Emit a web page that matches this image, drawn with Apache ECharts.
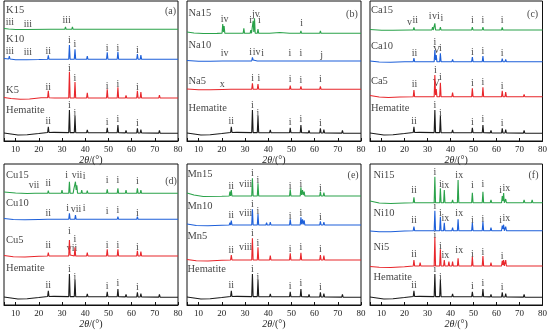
<!DOCTYPE html>
<html><head><meta charset="utf-8">
<script src="https://cdn.jsdelivr.net/npm/echarts@6/dist/echarts.min.js"></script>
<style>html,body{margin:0;padding:0;background:#fff}#c{width:550px;height:333px}</style>
</head><body><div id="c"></div>
<script>
// ---- data (2θ in degrees, stacked intensity in arbitrary units) ----
const hematite = [[5,8],[8,7],[11,6],[15,6.2],[20,7.5],[23.8,8.5],[24.1,14.3],[24.4,8.5],[26.5,8.6],[26.8,10.5],[27.1,8.6],[32.9,8.4],[33.2,31],[33.5,8.4],[35.3,8.4],[35.6,25],[35.9,8.4],[39,8.3],[39.3,10],[39.6,8.3],[40.6,8.3],[40.9,11],[41.2,8.3],[49.2,8.2],[49.5,13.3],[49.8,8.2],[53.8,8.2],[54.1,16],[54.4,8.2],[57.3,8.1],[57.6,10.5],[57.9,8.1],[62.2,8],[62.5,12.7],[62.8,8],[63.7,8],[64,11.5],[64.3,8],[71.7,7.9],[72,10.5],[72.3,7.9],[75.2,7.8],[75.5,9],[75.8,7.8],[80,7.7]];

const k5 = [[5,43.5],[8,42.5],[12,41.7],[16,42],[21,43.2],[23.8,43.2],[24.1,50.3],[24.4,43.2],[26.8,43],[28.8,43],[29.1,44],[29.4,43],[32.9,43],[33.2,69.3],[33.5,43],[35.3,43],[35.6,59],[35.9,43],[40.6,43],[40.9,48.3],[41.2,43],[49.2,43],[49.5,51.7],[49.8,43],[53.8,43],[54.1,53.7],[54.4,43],[57.3,43],[57.6,45.5],[57.9,43],[62.2,43],[62.5,50.3],[62.8,43],[63.7,43],[64,49],[64.3,43],[71.7,43],[72,46],[72.3,43],[75.2,43],[75.5,44.5],[75.8,43],[80,43]];
const k10 = [[5,82.5],[7,82],[7.3,85],[7.6,82],[10,81.2],[14.7,81.3],[15,83],[15.3,81.3],[20,81.5],[23.8,81.7],[24.1,85.7],[24.4,81.7],[31.2,81.7],[31.5,83],[31.8,81.7],[32.9,81.7],[33.2,96],[33.5,81.7],[35.3,81.7],[35.6,91.7],[35.9,81.7],[40.6,81.7],[40.9,85],[41.2,81.7],[49.2,81.7],[49.5,88.7],[49.8,81.7],[53.8,81.7],[54.1,89.3],[54.4,81.7],[62.2,81.7],[62.5,87],[62.8,81.7],[63.7,81.7],[64,86],[64.3,81.7],[71.7,81.7],[72,83],[72.3,81.7],[80,81.7]];
const k15 = [[5,112.5],[7,112],[7.3,114],[7.6,112],[10,111.5],[14.7,111.5],[15,113],[15.3,111.5],[25,111.7],[29.7,111.7],[30,113.5],[30.3,111.7],[31.2,111.7],[31.5,114],[31.8,111.7],[32.9,111.7],[33.2,113.5],[33.5,111.7],[34.2,111.7],[34.5,114],[34.8,111.7],[35.7,111.7],[36,113],[36.3,111.7],[62.2,111.7],[62.5,113],[62.8,111.7],[80,111.7]];

const na5 = [[5,52],[10,51.2],[15,51.2],[20.3,51.5],[20.6,53.5],[20.9,51.5],[23.8,51.7],[24.1,52.8],[24.4,51.7],[32.9,51.7],[33.2,57.7],[33.5,51.7],[35.3,51.7],[35.6,57],[35.9,51.7],[40.6,51.7],[40.9,53.5],[41.2,51.7],[49.2,51.7],[49.5,55.3],[49.8,51.7],[53.8,51.7],[54.1,54.7],[54.4,51.7],[62.2,51.7],[62.5,54.7],[62.8,51.7],[63.7,51.7],[64,53.5],[64.3,51.7],[80,51.7]];
const na10 = [[5,80.5],[10,79.7],[15,79.8],[20.3,80],[20.6,82],[20.9,80],[32.9,80],[33.2,83.7],[33.5,81],[33.8,82.5],[34.1,80],[35.3,80],[35.6,82],[35.9,80],[40.6,80],[40.9,81],[41.2,80],[49.2,80],[49.5,82],[49.8,80],[53.8,80],[54.1,82],[54.4,80],[62.2,80],[62.5,82],[62.8,80],[80,80]];
const na15 = [[5,109],[8,108],[12,107.5],[18,107.6],[20.1,107.7],[20.4,117],[20.7,109],[21,115],[21.3,107.7],[24,107.7],[24.3,109],[24.6,107.7],[29.2,107.7],[29.5,112.7],[29.8,107.7],[32.2,107.7],[32.5,111],[32.8,107.7],[33.2,107.7],[33.5,120.3],[33.8,109],[34.1,122.7],[34.4,107.7],[35.3,107.7],[35.6,112],[35.9,107.7],[40.6,107.7],[40.9,109],[41.2,107.7],[45,108.5],[49.2,107.7],[49.5,109.5],[49.8,107.7],[53.8,107.7],[54.1,110],[54.4,107.7],[59.7,107.7],[60,109.5],[60.3,107.7],[62.2,107.7],[62.5,110],[62.8,107.7],[63.7,107.7],[64,109.5],[64.3,107.7],[80,107.7]];

const ca5 = [[5,45.5],[9,44],[13,43.5],[18,44],[23.8,44.3],[24.1,51],[24.4,44.3],[32.9,44.3],[33.2,66],[33.5,46],[33.8,52],[34.1,44.3],[35.3,44.3],[35.6,58.3],[35.9,44.3],[40.6,44.3],[40.9,48.5],[41.2,44.3],[49.2,44.3],[49.5,52.7],[49.8,44.3],[53.8,44.3],[54.1,53.7],[54.4,44.3],[57.3,44.3],[57.6,46],[57.9,44.3],[62.2,44.3],[62.5,50.3],[62.8,44.3],[63.7,44.3],[64,49],[64.3,44.3],[71.7,44.3],[72,46.5],[72.3,44.3],[80,44.3]];
const ca10 = [[5,80],[9,79],[14,78.8],[20,79.2],[23.8,79.3],[24.1,83],[24.4,79.3],[32.9,79.3],[33.2,91],[33.5,81],[33.8,86],[34.1,79.3],[35.3,79.3],[35.6,87.7],[35.9,79.3],[40.6,79.3],[40.9,81.5],[41.2,79.3],[46.7,79.3],[47,80.5],[47.3,79.3],[49.2,79.3],[49.5,84],[49.8,79.3],[53.8,79.3],[54.1,85],[54.4,79.3],[57.3,79.3],[57.6,80.5],[57.9,79.3],[62.2,79.3],[62.5,82.5],[62.8,79.3],[63.7,79.3],[64,81.5],[64.3,79.3],[71.7,79.3],[72,80.5],[72.3,79.3],[80,79.3]];
const ca15 = [[5,111.5],[10,110.7],[15,110.7],[22.5,111],[22.8,112.5],[23.1,111],[23.8,111],[24.1,113.5],[24.4,111],[29.2,111],[29.5,112.7],[29.8,111],[31.9,111],[32.2,114],[32.5,111],[32.9,111],[33.2,117.7],[33.5,111],[35.3,111],[35.6,114],[35.9,111],[40.6,111],[40.9,112.7],[41.2,111],[46.7,111],[47,112],[47.3,111],[49.2,111],[49.5,114],[49.8,111],[53.8,111],[54.1,114],[54.4,111],[62.2,111],[62.5,113.5],[62.8,111],[71.7,111],[72,112],[72.3,111],[80,111]];

const cu5 = [[5,49.5],[9,48.3],[14,48],[20,48.7],[23.8,49],[24.1,52.3],[24.4,49],[32.9,49],[33.2,65],[33.5,50],[33.8,52],[34.1,49],[35.3,49],[35.6,57.7],[35.9,49],[40.6,49],[40.9,52.3],[41.2,49],[49.2,49],[49.5,55.7],[49.8,49],[53.8,49],[54.1,55.7],[54.4,49],[57.3,49],[57.6,50.7],[57.9,49],[62.2,49],[62.5,54.3],[62.8,49],[63.7,49],[64,53.3],[64.3,49],[71.7,49],[72,50.3],[72.3,49],[80,49]];
const cu10 = [[5,86.5],[9,85.5],[14,85.2],[20,85.5],[23.8,85.7],[24.1,87.7],[24.4,85.7],[32.9,85.7],[33.2,91.7],[33.5,85.7],[35.5,85.7],[35.8,90],[36.1,85.7],[38.2,85.7],[38.5,86.7],[38.8,85.7],[49.2,85.7],[49.5,87.7],[49.8,85.7],[53.8,85.7],[54.1,88.3],[54.4,85.7],[62.2,85.7],[62.5,88.3],[62.8,85.7],[63.7,85.7],[64,87.7],[64.3,85.7],[80,85.7]];
const cu15 = [[5,113],[10,112],[15,111.5],[18.4,111.7],[18.7,113],[19,111.7],[23.8,111.7],[24.1,114.3],[24.4,111.7],[26.2,111.7],[26.5,113],[26.8,111.7],[29.7,111.7],[30,115],[30.3,111.7],[32.9,111.7],[33.2,123.3],[33.5,111.7],[34.8,111.7],[35.1,116],[35.4,114],[35.8,123.3],[36.1,115],[36.4,119.7],[36.7,111.7],[38.2,111.7],[38.5,115],[38.8,111.7],[40.6,111.7],[40.9,114.3],[41.2,111.7],[43.7,111.7],[44,113.7],[44.3,111.7],[49.2,111.7],[49.5,115.7],[49.8,111.7],[53.8,111.7],[54.1,116.7],[54.4,111.7],[57.3,111.7],[57.6,115],[57.9,111.7],[62.2,111.7],[62.5,116.7],[62.8,111.7],[63.7,111.7],[64,115],[64.3,111.7],[71.7,111.7],[72,113],[72.3,111.7],[80,111.7]];

const mn5 = [[5,45.5],[9,44.3],[14,44],[20,44.7],[23.8,45],[24.1,50],[24.4,45],[26.5,45],[26.8,46.7],[27.1,45],[32.9,45],[33.2,66.7],[33.5,45],[35.3,45],[35.6,57.7],[35.9,45],[40.6,45],[40.9,49.3],[41.2,45],[49.2,45],[49.5,51.7],[49.8,45],[53.8,45],[54.1,52.3],[54.4,45],[57.3,45],[57.6,46.5],[57.9,45],[62.2,45],[62.5,50],[62.8,45],[63.7,45],[64,49.3],[64.3,45],[71.7,45],[72,46.7],[72.3,45],[80,45]];
const mn10 = [[5,81],[9,79.5],[14,79.2],[20,79.8],[23.2,80],[23.5,82.3],[23.8,80],[24.1,84.3],[24.4,80],[26.5,80],[26.8,81.7],[27.1,80],[32.9,80],[33.2,95.7],[33.5,80],[35.3,80],[35.6,91],[35.9,80],[39,80],[39.3,82.3],[39.6,80],[40.6,80],[40.9,83],[41.2,80],[44.7,80],[45,81.3],[45.3,80],[49.2,80],[49.5,85.7],[49.8,80],[53.8,80],[54.1,87.7],[54.4,80.7],[54.8,85.7],[55.1,80.7],[55.5,84.7],[55.8,80],[62.2,80],[62.5,83.7],[62.8,80],[63.7,80],[64,83],[64.3,80],[71.7,80],[72,81.7],[72.3,80],[80,80]];
const mn15 = [[5,112],[8,110],[12,108.5],[20,108.8],[23.2,109],[23.5,113.3],[23.8,109],[24.1,115],[24.4,109],[26.5,109],[26.8,111],[27.1,109],[32.9,109],[33.2,126.7],[33.5,109],[35.3,109],[35.6,121.7],[35.9,109],[39,109],[39.3,111],[39.6,109],[40.6,109],[40.9,111],[41.2,109],[49.2,109],[49.5,115.7],[49.8,109],[53.8,109],[54.1,117.7],[54.4,110],[54.8,115],[55.1,110],[55.5,113.3],[55.8,109],[62.2,109],[62.5,113.3],[62.8,109],[63.7,109],[64,112.3],[64.3,109],[71.7,109],[72,110.3],[72.3,109],[80,109]];

const ni5 = [[5,38.5],[9,37.7],[14,37.5],[20,38.3],[23.8,39],[24.1,45],[24.4,39],[26.5,39],[26.8,42.3],[27.1,39],[32.9,39],[33.2,67.7],[33.5,39],[35.3,39],[35.6,55.7],[35.9,39],[37,39],[37.3,45],[37.6,39],[39,39],[39.3,43.3],[39.6,39],[40.6,39],[40.9,43.3],[41.2,39],[43,39],[43.3,46.7],[43.6,39],[49.2,39],[49.5,48.3],[49.8,39],[53.8,39],[54.1,49],[54.4,39],[57.3,39],[57.6,42.3],[57.9,39],[62.2,39],[62.5,44.3],[62.8,40],[63.1,45],[63.4,39],[63.7,39],[64,45],[64.3,39],[71.7,39],[72,41],[72.3,39],[75.2,39],[75.5,41],[75.8,39],[80,39]];
const ni10 = [[5,74],[9,73.3],[14,73.3],[20,74],[23.8,74.3],[24.1,78.3],[24.4,74.3],[26.5,74.3],[26.8,76],[27.1,74.3],[32.9,74.3],[33.2,94.3],[33.5,74.3],[35.3,74.3],[35.6,88.3],[35.9,74.3],[37,74.3],[37.3,82.3],[37.6,74.3],[40.6,74.3],[40.9,77.3],[41.2,74.3],[43,74.3],[43.3,85.7],[43.6,74.3],[49.2,74.3],[49.5,82.3],[49.8,74.3],[53.8,74.3],[54.1,83.3],[54.4,74.3],[57.3,74.3],[57.6,77.3],[57.9,74.3],[62.2,74.3],[62.5,79.3],[62.8,76],[63.1,80.3],[63.4,74.3],[63.7,74.3],[64,78.3],[64.3,74.3],[71.7,74.3],[72,76.3],[72.3,74.3],[75.2,74.3],[75.5,76.3],[75.8,74.3],[80,74.3]];
const ni15 = [[5,104],[9,102],[14,101.5],[20,102],[23.8,102.3],[24.1,107.7],[24.4,102.3],[26.5,102.3],[26.8,104.3],[27.1,102.3],[30.2,102.3],[30.5,103.7],[30.8,102.3],[32.9,102.3],[33.2,128.3],[33.5,102.3],[35.3,102.3],[35.6,116.7],[35.9,102.3],[37,102.3],[37.3,115],[37.6,102.3],[40.6,102.3],[40.9,105],[41.2,102.3],[43,102.3],[43.3,125],[43.6,102.3],[49.2,102.3],[49.5,112.3],[49.8,102.3],[53.8,102.3],[54.1,113.3],[54.4,102.3],[57.3,102.3],[57.6,105],[57.9,102.3],[62.2,102.3],[62.5,109],[62.8,104],[63.1,112],[63.4,102.3],[63.7,102.3],[64,106],[64.3,102.3],[71.7,102.3],[72,105],[72.3,102.3],[75.2,102.3],[75.5,105],[75.8,102.3],[80,102.3]];

// sample names [2θ, y, text]
const namesA = [[5.9,130.3,'K15'],[5.9,101.7,'K10'],[5.9,51,'K5'],[5.9,31,'Hematite']];
const namesB = [[5.6,127.7,'Na15'],[5.6,96,'Na10'],[5.6,60,'Na5'],[5.6,33,'Hematite']];
const namesC = [[5.4,131,'Ca15'],[5.4,94.3,'Ca10'],[5.4,60,'Ca5'],[5.4,32.7,'Hematite']];
const namesD = [[5.9,130,'Cu15'],[5.9,101.7,'Cu10'],[5.9,65,'Cu5'],[5.9,36.7,'Hematite']];
const namesE = [[5.2,131,'Mn15'],[5.2,98.3,'Mn10'],[5.2,68.3,'Mn5'],[5.2,35.7,'Hematite']];
const namesF = [[6.5,130,'Ni15'],[6.5,91.7,'Ni10'],[6.5,57.7,'Ni5'],[6.5,27.7,'Hematite']];
const panelTags = [[76.8,130,'(a)'],[76.1,127,'(b)'],[75.7,127,'(c)'],[77,123.3,'(d)'],[76.6,130,'(e)'],[76.1,130,'(f)']];

// peak labels [2θ, y, text]
const hemPeaks = [[24.1,19.3,'ii'],[33.2,36,'i'],[35.6,28,'i'],[49.5,18.3,'i'],[54.1,21.5,'i'],[62.5,18,'i']];
const peaksA = [[24.1,54,'ii'],[33.2,73,'i'],[35.6,62.5,'i'],[49.5,54.5,'i'],[54.1,57,'i'],[62.5,53.5,'i'],
  [7.5,89.3,'iii'],[15.3,88.3,'iii'],[24.1,90,'ii'],[33.2,101,'i'],[35.6,96.7,'i'],[49.5,92.7,'i'],[54.1,92.7,'i'],[62.5,90.3,'i'],
  [7.5,118.3,'iii'],[15.3,117,'iii'],[32,120.3,'iii']];
const peaksB = [[20.2,57,'x'],[33.3,62.7,'i'],[36,62.7,'i'],[49.5,61.7,'i'],[54.1,61,'i'],[62.5,61.7,'i'],
  [21.2,87.7,'iv'],[32.4,88.3,'i'],[35,88.3,'iv'],[37.6,87.7,'i'],[49.4,87.7,'i'],[54.1,87.7,'i'],[63,85.5,'j'],
  [21.2,121.7,'iv'],[32.4,120.3,'i'],[34.7,127,'jv'],[36.2,120.3,'i'],[54.4,117.7,'i']];
const peaksC = [[24.4,56.7,'ii'],[33.4,71,'i'],[33.9,57.7,'V'],[35.6,63.7,'i'],[49.5,58,'i'],[54.1,58.7,'i'],[62.5,55,'i'],
  [24.4,87.7,'ii'],[33.2,98.3,'i'],[34,91,'V'],[35.6,92.7,'i'],[49.5,88.7,'i'],[54.1,89.3,'i'],[62.5,87.7,'i'],
  [22.2,118.3,'v'],[24.7,121,'ii'],[31.2,125,'i'],[33.7,125,'vi'],[36.3,122.7,'i'],[49.5,121,'i'],[54.1,120.3,'i'],[62.5,120.3,'i']];
const peaksD = [[24.1,60,'ii'],[33.2,74,'i'],[34.3,56.7,'vii'],[35.6,65.7,'i'],[49.5,60,'i'],[54.1,60,'i'],[62.5,58,'i'],
  [24.1,91.7,'ii'],[32.4,96.7,'i'],[36,96,'vii'],[39.5,96.3,'i'],[49.5,94,'i'],[54.1,95,'i'],[62.5,92,'i'],
  [17.9,120,'vii'],[24.1,121.7,'ii'],[32,130,'i'],[36.5,130,'vii'],[39.5,128.3,'i'],[49.5,124.3,'i'],[54.1,124.3,'i'],[62.5,123.3,'i']];
const peaksE = [[24.1,55,'ii'],[30.3,57.7,'viii'],[33.2,71.7,'i'],[35.6,61.7,'i'],[49.5,56,'i'],[54.1,57.7,'i'],[62.5,55.7,'i'],
  [24.1,90,'ii'],[30.3,91.7,'viii'],[33.2,100.7,'i'],[35.6,93.3,'i'],[49.5,88.3,'i'],[54.1,91.7,'i'],[62.5,87.7,'i'],
  [24.1,119,'ii'],[30.3,121,'viii'],[33.2,131.7,'i'],[35.6,125,'i'],[49.5,119,'i'],[54.1,121,'i'],[62.5,116.7,'i']];
const peaksF = [[24.1,50.7,'ii'],[33.2,70,'i'],[35.6,59,'i'],[37.8,50,'ix'],[43.8,54.3,'ix'],[49.5,51,'i'],[54.1,53,'i'],[62.5,48.3,'i'],
  [24.1,84.3,'ii'],[33.2,98.3,'i'],[35.6,91.7,'i'],[37.8,86.7,'ix'],[43.8,91.7,'ix'],[49.5,85,'i'],[54.1,86,'i'],[61.8,84.3,'i'],[64.3,86.7,'ix'],
  [24.1,114.3,'ii'],[33.2,132.3,'i'],[35.6,121,'i'],[37.8,120,'ix'],[43.8,130,'ix'],[49.5,120,'i'],[54.1,121,'i'],[61.8,114.3,'i'],[64.3,116.7,'ix']];

const xTicks = [10,20,30,40,50,60,70,80];

// ---- chart ----
const FONT = "'Liberation Serif','Times New Roman',serif";
const colors = ['#1a1a1a','#e8262b','#1d5fd9','#2aa24a'];
const panels = [
  {curves:[hematite,k5,k10,k15], names:namesA, peaks:peaksA},
  {curves:[hematite,na5,na10,na15], names:namesB, peaks:peaksB},
  {curves:[hematite,ca5,ca10,ca15], names:namesC, peaks:peaksC},
  {curves:[hematite,cu5,cu10,cu15], names:namesD, peaks:peaksD},
  {curves:[hematite,mn5,mn10,mn15], names:namesE, peaks:peaksE},
  {curves:[hematite,ni5,ni10,ni15], names:namesF, peaks:peaksF}
];
const lefts = [4,187,370];
const rows = [{top:1,height:140,ymax:140},{top:164,height:141,ymax:141}];

const grid=[], xAxis=[], yAxis=[], series=[];
panels.forEach((p,i)=>{
  const r = rows[Math.floor(i/3)];
  grid.push({left:lefts[i%3], top:r.top, width:174, height:r.height, show:true, borderColor:'#111', borderWidth:1, containLabel:false});
  xAxis.push({type:'value', gridIndex:i, min:5, max:80, splitNumber:8,
    axisLine:{show:true, lineStyle:{color:'#111', width:1}},
    axisTick:{show:true, inside:true, length:3, lineStyle:{color:'#111'}},
    splitLine:{show:false},
    axisLabel:{fontFamily:FONT, fontSize:9, color:'#222', margin:4,
      formatter: v => xTicks.indexOf(v) >= 0 ? String(v) : ''},
    name:'{it|2θ}/(°)', nameLocation:'middle', nameGap:12,
    nameTextStyle:{fontFamily:FONT, fontSize:10, color:'#222',
      rich:{it:{fontFamily:FONT, fontSize:10, fontStyle:'italic', color:'#222'}}}
  });
  yAxis.push({type:'value', gridIndex:i, min:0, max:r.ymax, show:false});
  p.curves.forEach((d,k)=>{
    series.push({type:'line', xAxisIndex:i, yAxisIndex:i, data:d, showSymbol:false, symbol:'none',
      silent:true, animation:false, lineStyle:{color:colors[k], width:1.1}, itemStyle:{color:colors[k]}});
  });
  const txt = (arr, align) => arr.map(a => ({value:[a[0],a[1]], label:{formatter:a[2], align:align}}));
  series.push({type:'scatter', xAxisIndex:i, yAxisIndex:i, symbolSize:0, silent:true, animation:false,
    data: txt(hemPeaks.concat(p.peaks),'center').concat(txt([panelTags[i]],'center')),
    label:{show:true, position:'inside', fontFamily:FONT, fontSize:10, color:'#111', textBorderWidth:0, verticalAlign:'middle'}});
  series.push({type:'scatter', xAxisIndex:i, yAxisIndex:i, symbolSize:0, silent:true, animation:false,
    data: txt(p.names,'left'),
    label:{show:true, position:'inside', fontFamily:FONT, fontSize:10.5, color:'#111', textBorderWidth:0, verticalAlign:'middle'}});
});

const chart = echarts.init(document.getElementById('c'), null, {renderer:'canvas'});
chart.setOption({animation:false, backgroundColor:'#fff', grid, xAxis, yAxis, series});
</script></body></html>
